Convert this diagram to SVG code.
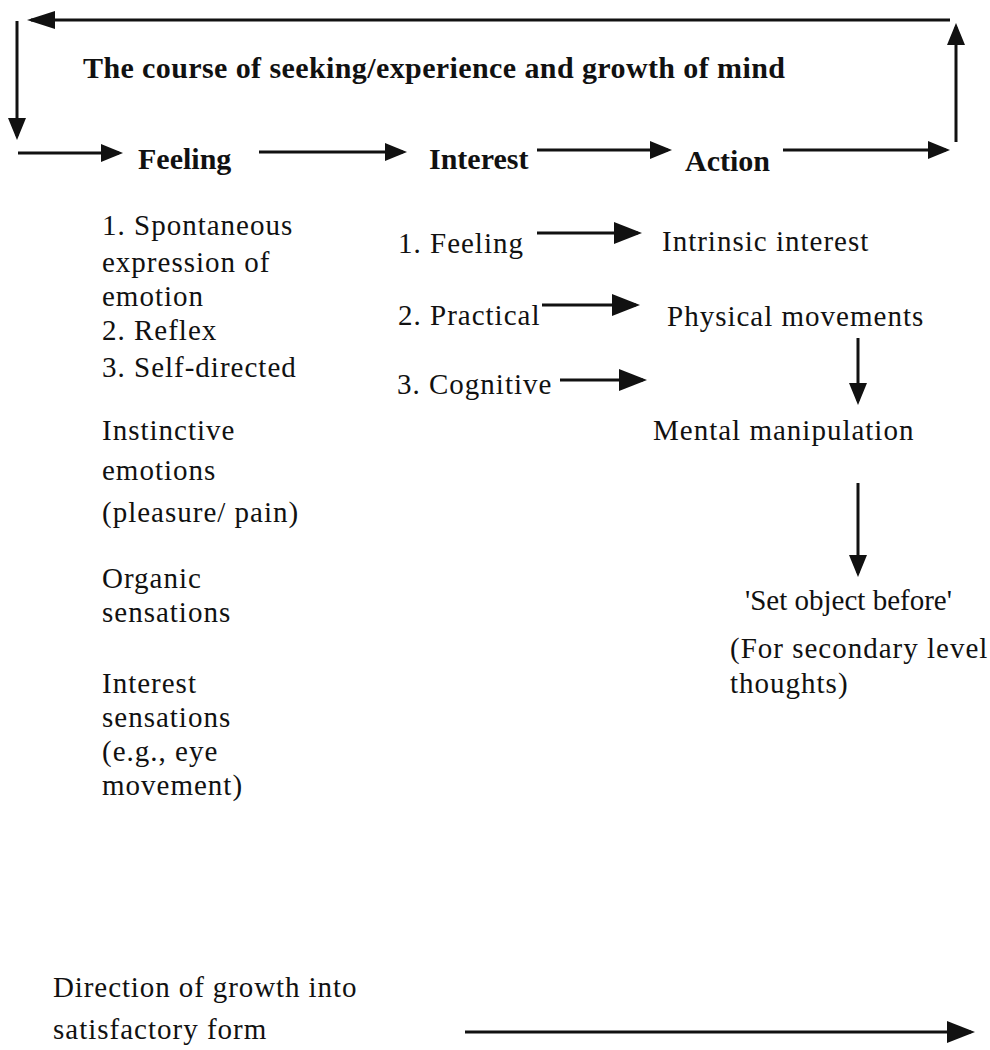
<svg xmlns="http://www.w3.org/2000/svg" width="990" height="1050" viewBox="0 0 990 1050">
  <defs>
    <style>
      .t { font-family: "Liberation Serif", "Times New Roman", serif; font-size: 29px; letter-spacing: 1px; fill: #111; }
      .b { font-family: "Liberation Serif", "Times New Roman", serif; font-size: 30px; font-weight: bold; fill: #111; }
      .ln { stroke: #111; stroke-width: 3; fill: none; }
    </style>
    <marker id="ah" markerUnits="userSpaceOnUse" markerWidth="24" markerHeight="20" refX="18" refY="9" orient="auto">
      <path d="M0,0 L22,9 L0,18 z" fill="#111"/>
    </marker>
    <marker id="ahT" markerUnits="userSpaceOnUse" markerWidth="30" markerHeight="20" refX="24" refY="9" orient="auto">
      <path d="M0,0 L28,9 L0,18 z" fill="#111"/>
    </marker>
    <marker id="ahL" markerUnits="userSpaceOnUse" markerWidth="30" markerHeight="24" refX="24" refY="11" orient="auto">
      <path d="M0,0 L28,11 L0,22 z" fill="#111"/>
    </marker>
  </defs>
  <rect width="990" height="1050" fill="#fff"/>

  <g id="connectors">
    <path class="ln" d="M950,20 L31,20" marker-end="url(#ahT)"/>
    <path class="ln" d="M17,21 L17,136" marker-end="url(#ah)"/>
    <path class="ln" d="M18,153 L119,153" marker-end="url(#ah)"/>
    <path class="ln" d="M259,152 L403,152" marker-end="url(#ah)"/>
    <path class="ln" d="M537,150 L668,150" marker-end="url(#ah)"/>
    <path class="ln" d="M783,150 L946,150" marker-end="url(#ah)"/>
    <path class="ln" d="M956,142 L956,27" marker-end="url(#ah)"/>
    <path class="ln" d="M537,233 L638,233" marker-end="url(#ahL)"/>
    <path class="ln" d="M542,305 L636,305" marker-end="url(#ahL)"/>
    <path class="ln" d="M560,380 L643,380" marker-end="url(#ahL)"/>
    <path class="ln" d="M858,338 L858,401" marker-end="url(#ah)"/>
    <path class="ln" d="M858,483 L858,573" marker-end="url(#ah)"/>
    <path class="ln" d="M465,1032 L971,1032" marker-end="url(#ahL)"/>
  </g>

  <g id="title">
    <text class="b" x="83" y="78" style="letter-spacing:0.4px">The course of seeking/experience and growth of mind</text>
  </g>

  <g id="feeling"><text class="b" x="138" y="169">Feeling</text></g>
  <g id="interest"><text class="b" x="429" y="169">Interest</text></g>
  <g id="action"><text class="b" x="685" y="171">Action</text></g>

  <g id="feeling-list">
    <text class="t" x="102" y="235">1. Spontaneous</text>
    <text class="t" x="102" y="272">expression of</text>
    <text class="t" x="102" y="306">emotion</text>
    <text class="t" x="102" y="340">2. Reflex</text>
    <text class="t" x="102" y="377">3. Self-directed</text>
  </g>
  <g id="instinctive">
    <text class="t" x="102" y="440">Instinctive</text>
    <text class="t" x="102" y="480">emotions</text>
    <text class="t" x="102" y="522">(pleasure/ pain)</text>
  </g>
  <g id="organic">
    <text class="t" x="102" y="588">Organic</text>
    <text class="t" x="102" y="622">sensations</text>
  </g>
  <g id="interest-sensations">
    <text class="t" x="102" y="693">Interest</text>
    <text class="t" x="102" y="727">sensations</text>
    <text class="t" x="102" y="761">(e.g., eye</text>
    <text class="t" x="102" y="795">movement)</text>
  </g>

  <g id="interest-feeling"><text class="t" x="398" y="253">1. Feeling</text></g>
  <g id="interest-practical"><text class="t" x="398" y="325">2. Practical</text></g>
  <g id="interest-cognitive"><text class="t" x="397" y="394">3. Cognitive</text></g>

  <g id="intrinsic"><text class="t" x="662" y="251">Intrinsic interest</text></g>
  <g id="physical"><text class="t" x="667" y="326">Physical movements</text></g>
  <g id="mental"><text class="t" x="653" y="440">Mental manipulation</text></g>
  <g id="set-object"><text class="t" x="745" y="610" style="letter-spacing:0px">'Set object before'</text></g>
  <g id="secondary">
    <text class="t" x="730" y="658">(For secondary level</text>
    <text class="t" x="730" y="693">thoughts)</text>
  </g>

  <g id="direction">
    <text class="t" x="53" y="997" style="letter-spacing:0.9px">Direction of growth into</text>
    <text class="t" x="53" y="1039">satisfactory form</text>
  </g>
</svg>
